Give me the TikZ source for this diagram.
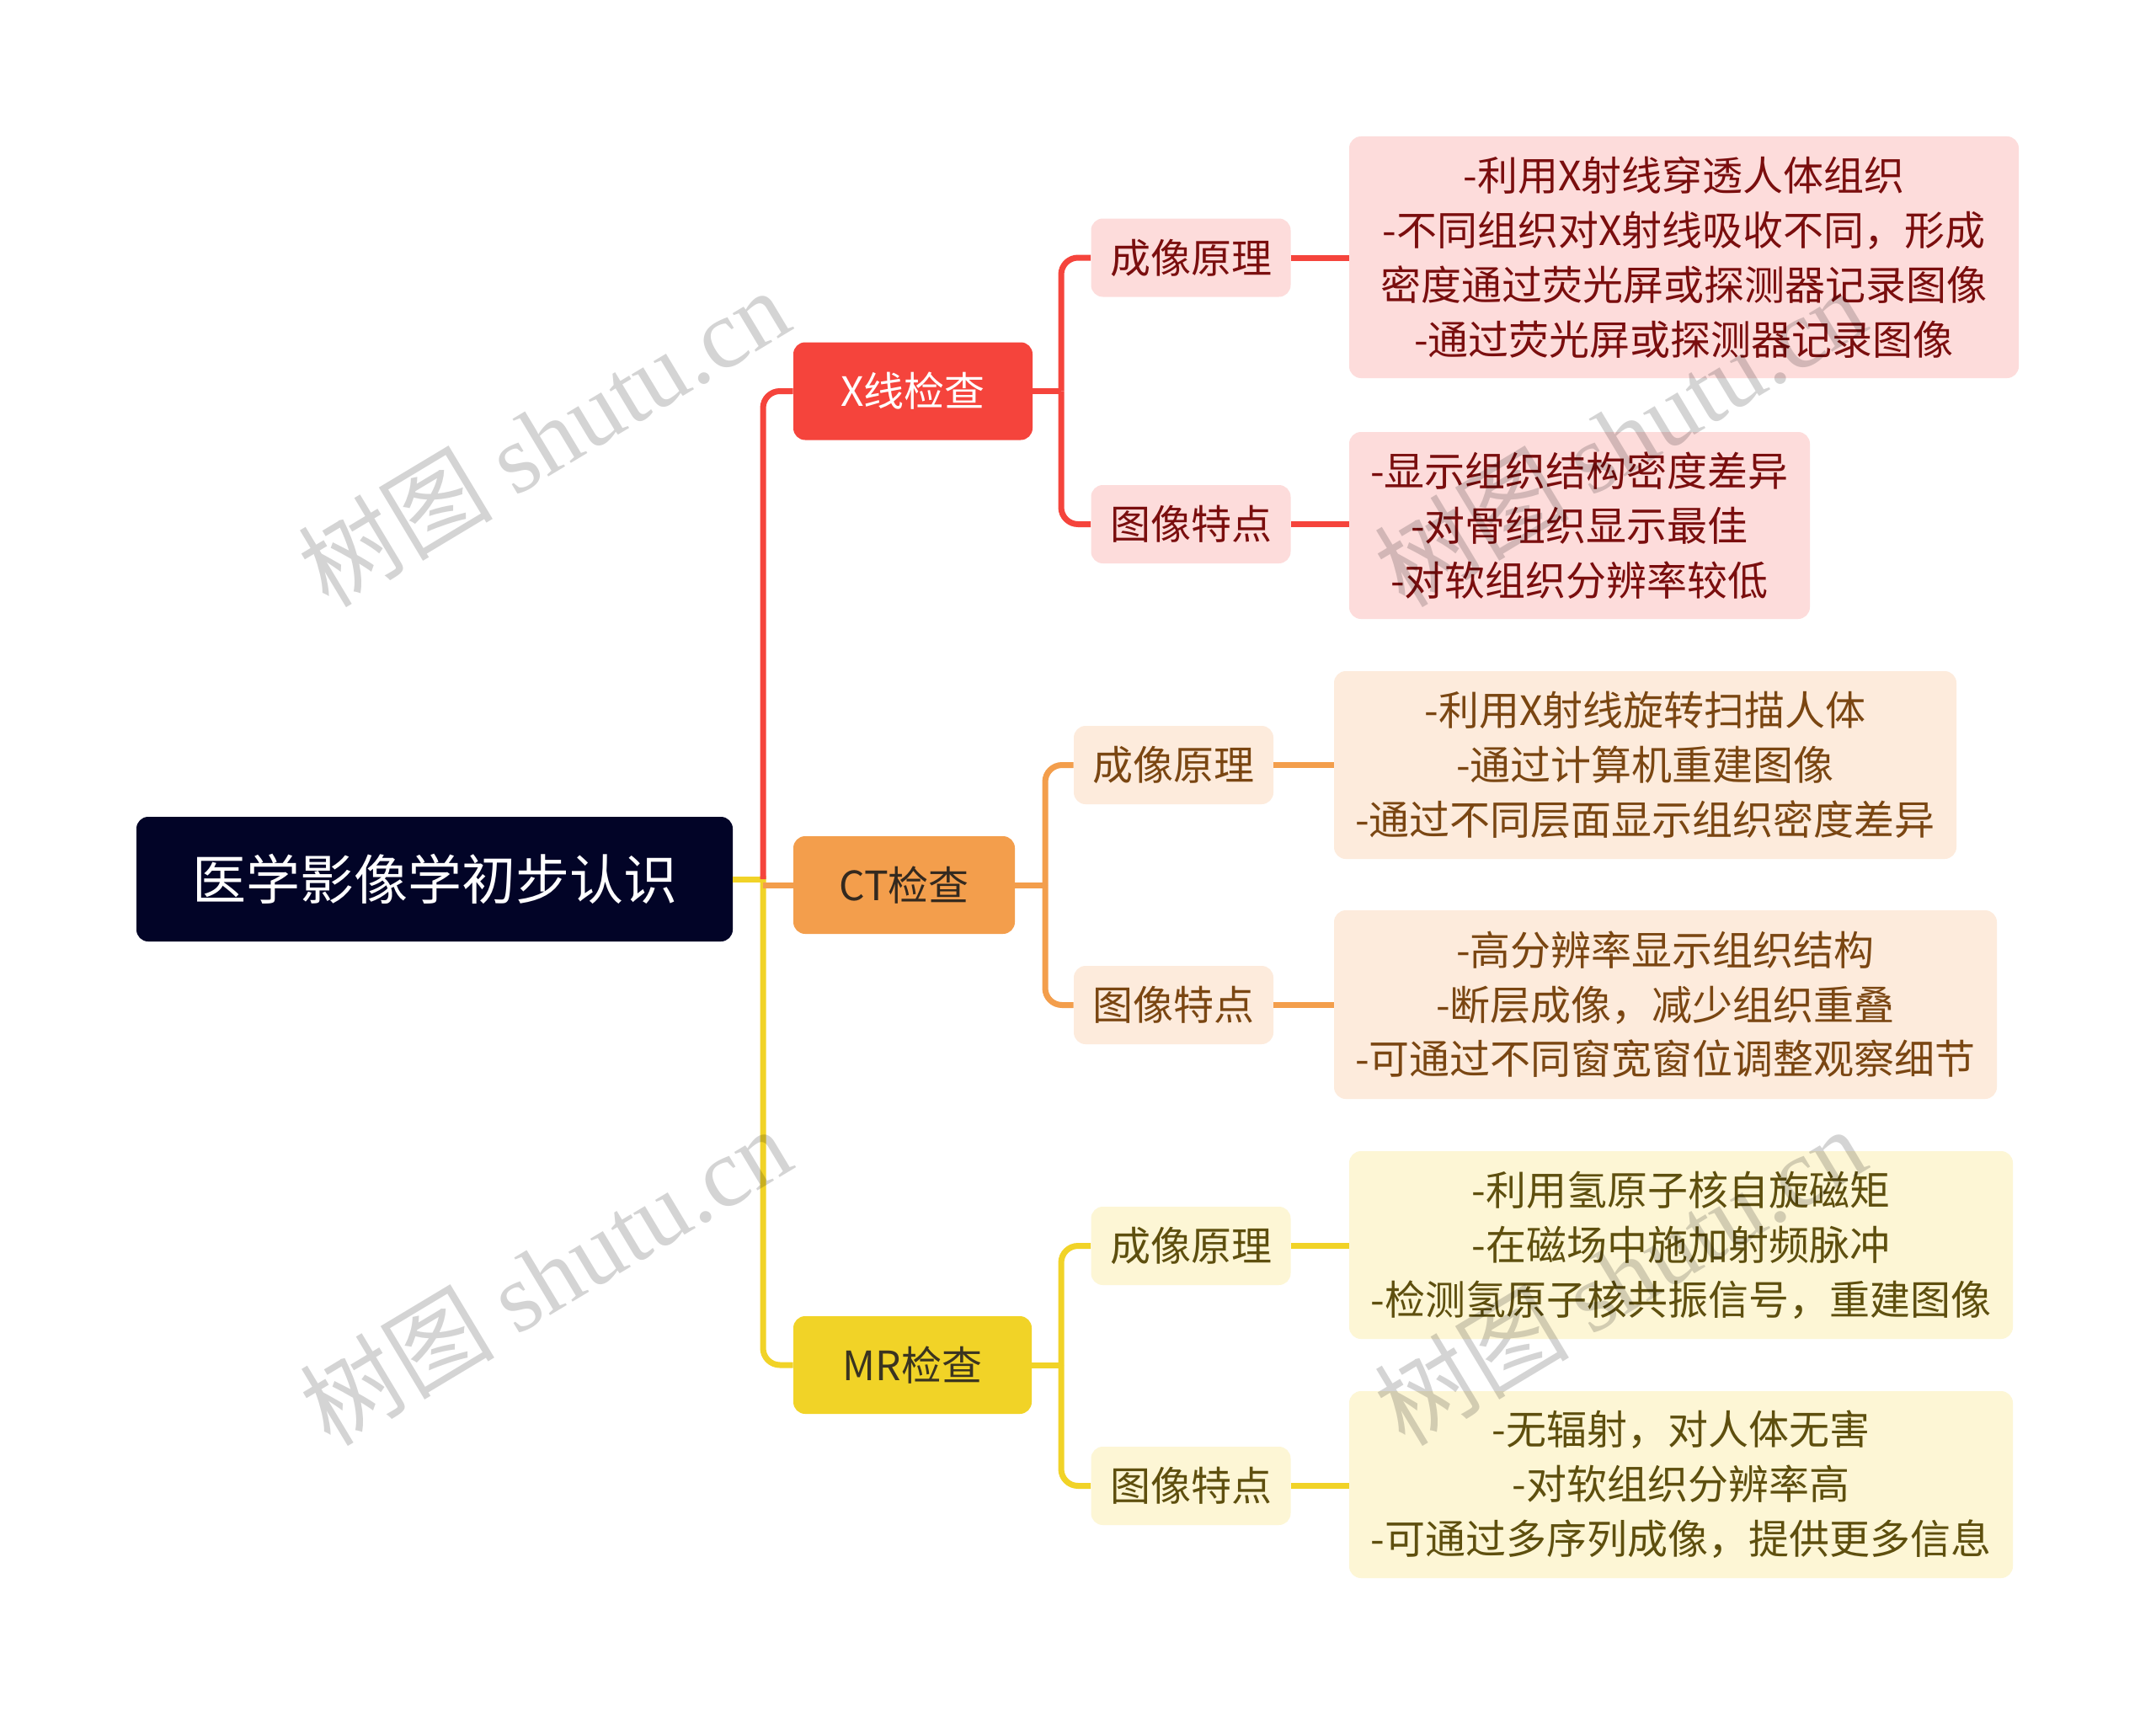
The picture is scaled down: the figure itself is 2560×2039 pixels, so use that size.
\documentclass[tikz,border=0pt]{standalone}
\usepackage{fontspec}
\setmainfont{Noto Sans CJK SC}
\newfontfamily\wmcjk{Noto Sans CJK SC}
\newfontfamily\wmlat{Liberation Serif}
\definecolor{rootc}{HTML}{020427}
\definecolor{redc}{HTML}{F5443C}
\definecolor{redl}{HTML}{FDDCDB}
\definecolor{redt}{HTML}{7A0E0E}
\definecolor{orgc}{HTML}{F39E4C}
\definecolor{orgl}{HTML}{FDEBDC}
\definecolor{orgt}{HTML}{7A4612}
\definecolor{orgk}{HTML}{33291F}
\definecolor{ylwc}{HTML}{F1D327}
\definecolor{ylwl}{HTML}{FDF6D5}
\definecolor{ylwt}{HTML}{5E4F0E}
\definecolor{ylwk}{HTML}{3A3420}
\tikzset{
  box/.style={rounded corners=7pt, inner sep=0pt, align=center, font=\fontsize{24pt}{32.4pt}\selectfont},
  rootbox/.style={box, fill=rootc, text=white, font=\fontsize{32pt}{38pt}\selectfont},
  lone/.style={box, minimum height=58pt},
  ltwo/.style={box, minimum width=118.5pt, minimum height=46.5pt},
  conn/.style={line width=3.5pt, rounded corners=10pt},
  wm/.style={text=black, opacity=0.17, font=\fontsize{58pt}{58pt}\selectfont, inner sep=0pt}
}
\begin{document}
\begin{tikzpicture}[x=0.5pt,y=-0.5pt]
\useasboundingbox[fill=white] (0,0) rectangle (2560,2039);

% nodes
\node[rootbox, minimum width=354pt, minimum height=74pt] (root) at (516,1044) {医学影像学初步认识};

\node[lone, fill=redc, text=white, minimum width=142pt] (X) at (1084,464.5) {X线检查};
\node[lone, fill=orgc, text=orgk, minimum width=131.5pt] (CT) at (1073.5,1051) {CT检查};
\node[lone, fill=ylwc, text=ylwk, minimum width=141.5pt] (MR) at (1083.5,1621) {MR检查};

\node[ltwo, fill=redl, text=redt] (Xa) at (1414,306) {成像原理};
\node[ltwo, fill=redl, text=redt] (Xb) at (1414,622.5) {图像特点};
\node[ltwo, fill=orgl, text=orgt] (Ca) at (1393.5,908.5) {成像原理};
\node[ltwo, fill=orgl, text=orgt] (Cb) at (1393.5,1193.5) {图像特点};
\node[ltwo, fill=ylwl, text=ylwt] (Ma) at (1414,1479.5) {成像原理};
\node[ltwo, fill=ylwl, text=ylwt] (Mb) at (1414,1764.5) {图像特点};

\node[box, fill=redl, text=redt, minimum width=397.5pt, minimum height=143.5pt] (Xap) at (1999.5,305.5)
  {-利用X射线穿透人体组织\\-不同组织对X射线吸收不同，形成\\密度通过荧光屏或探测器记录图像\\-通过荧光屏或探测器记录图像};
\node[box, fill=redl, text=redt, minimum width=273.5pt, minimum height=111pt] (Xbp) at (1875.5,624)
  {-显示组织结构密度差异\\-对骨组织显示最佳\\-对软组织分辨率较低};
\node[box, fill=orgl, text=orgt, minimum width=369.5pt, minimum height=111.5pt] (Cap) at (1953.5,908.5)
  {-利用X射线旋转扫描人体\\-通过计算机重建图像\\-通过不同层面显示组织密度差异};
\node[box, fill=orgl, text=orgt, minimum width=393.5pt, minimum height=112pt] (Cbp) at (1977.5,1193)
  {-高分辨率显示组织结构\\-断层成像，减少组织重叠\\-可通过不同窗宽窗位调整观察细节};
\node[box, fill=ylwl, text=ylwt, minimum width=394pt, minimum height=111.5pt] (Map) at (1996,1478.5)
  {-利用氢原子核自旋磁矩\\-在磁场中施加射频脉冲\\-检测氢原子核共振信号，重建图像};
\node[box, fill=ylwl, text=ylwt, minimum width=394pt, minimum height=111pt] (Mbp) at (1996,1763)
  {-无辐射，对人体无害\\-对软组织分辨率高\\-可通过多序列成像，提供更多信息};

% junctions
\coordinate (j0) at (906,1044);
\coordinate (jx) at (1260,464.5);
\coordinate (jc) at (1241,1051);
\coordinate (jm) at (1260,1621);

% root connectors
\draw[conn, ylwc] (root.east) -- (j0);
\draw[conn, ylwc] ([yshift=2pt]j0) |- (MR.west);
\draw[conn, orgc] (j0 |- CT.west) -- (CT.west);
\draw[conn, redc] (j0) |- (X.west);

% level 1 -> level 2
\draw[conn, redc] (X.east) -- (jx);
\draw[conn, redc] (jx) |- (Xa.west);
\draw[conn, redc] (jx) |- (Xb.west);
\draw[conn, orgc] (CT.east) -- (jc);
\draw[conn, orgc] (jc) |- (Ca.west);
\draw[conn, orgc] (jc) |- (Cb.west);
\draw[conn, ylwc] (MR.east) -- (jm);
\draw[conn, ylwc] (jm) |- (Ma.west);
\draw[conn, ylwc] (jm) |- (Mb.west);

% level 2 -> level 3
\draw[conn, redc] (Xa.east) -- (Xa.east -| Xap.west);
\draw[conn, redc] (Xb.east) -- (Xb.east -| Xbp.west);
\draw[conn, orgc] (Ca.east) -- (Ca.east -| Cap.west);
\draw[conn, orgc] (Cb.east) -- (Cb.east -| Cbp.west);
\draw[conn, ylwc] (Ma.east) -- (Ma.east -| Map.west);
\draw[conn, ylwc] (Mb.east) -- (Mb.east -| Mbp.west);

% watermarks
\node[wm, rotate=31] (w1) at (645,519) {{\wmcjk 树图} {\wmlat shutu.cn}};
\node[wm, rotate=31] (w2) at (647,1515) {{\wmcjk 树图} {\wmlat shutu.cn}};
\node[wm, rotate=31] (w3) at (1923,519) {{\wmcjk 树图} {\wmlat shutu.cn}};
\node[wm, rotate=31] (w4) at (1923,1515) {{\wmcjk 树图} {\wmlat shutu.cn}};
\end{tikzpicture}
\end{document}
